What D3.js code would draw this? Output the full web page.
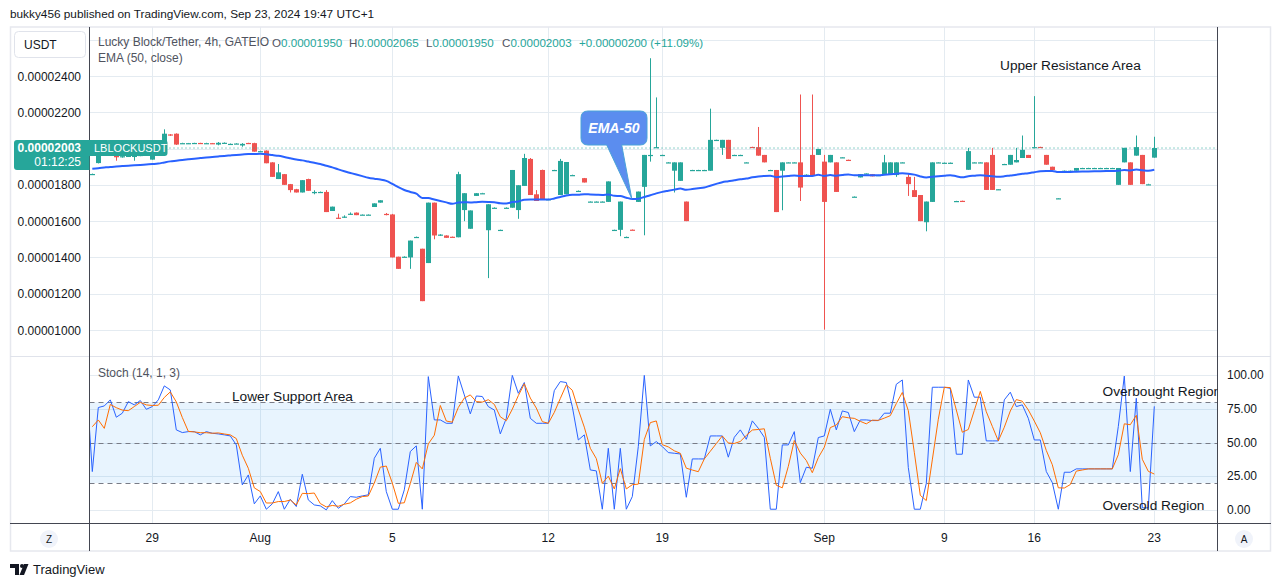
<!DOCTYPE html>
<html><head><meta charset="utf-8">
<script src="https://cdn.jsdelivr.net/npm/d3@7"></script>
<style>
html,body{margin:0;padding:0;background:#fff;}
svg{display:block;font-family:"Liberation Sans",Arial,sans-serif;}
</style></head><body>
<svg id="c" width="1281" height="587"></svg>
<script>
// prices in units of 1e-8 USDT, one entry per 4h candle (index based)
const openV = [1858,1920,1985,1987,1961,1957,1958,1955,1960,1965,1939,1971,2026,2078,2082,2029,2029,2030,2031,2028,2030,2022,2030,2024,2026,2017,2031,2030,1984,1989,1924,1832,1859,1804,1776,1758,1832,1754,1760,1761,1656,1619,1622,1639,1647,1635,1635,1678,1702,1640,1637,1404,1403,1400,1512,1448,1369,1702,1521,1521,1514,1511,1661,1558,1739,1753,1550,1673,1551,1673,1674,1661,1794,1943,1748,1882,1720,1880,1744,1748,1853,1766,1837,1707,1707,1707,1706,1551,1552,1512,1553,1706,1789,1962,2005,1963,1923,1878,1822,1708,1881,1881,1881,1878,2047,2004,2048,1964,1964,1923,2009,2008,1965,1881,1882,1878,1923,1923,1924,1855,1965,1965,1928,1924,1924,1951,1938,1734,1841,1862,1859,1853,1856,1856,1854,1923,1844,1771,1744,1594,1706,1923,1921,1921,1710,1712,1883,1923,1923,1924,1965,1775,1914,1911,1924,1948,1965,2007,2009,1965,1900,1725,1877,1877,1878,1892,1892,1892,1892,1892,1892,1800,1924,1924,1961,1965,1802,1950];
const highV = [1862,1968,1990,1992,1963,1962,1962,1965,1968,1975,1971,1985,2106,2080,2084,2032,2031,2032,2032,2032,2031,2036,2034,2028,2029,2030,2032,2032,1988,1990,1925,1915,1860,1805,1778,1826,1834,1770,1763,1771,1680,1641,1632,1648,1648,1637,1637,1698,1715,1645,1640,1404,1406,1493,1515,1448,1702,1702,1528,1522,1515,1872,1754,1659,1754,1756,1693,1676,1553,1676,1882,1798,1971,1948,1771,1884,1723,1883,1943,1926,1856,1769,1838,1709,1709,1709,1819,1553,1708,1515,1554,1763,1965,2498,2282,1966,1926,1924,1924,1708,1883,1883,1883,2220,2049,2048,2048,1966,1966,1925,2010,2119,1965,1883,1882,1924,1925,1925,2298,1858,2298,1998,1965,1965,1924,1953,1939,1736,1859,1864,1860,1855,1965,1924,1924,1925,1859,1844,1744,1708,1924,1925,1923,1923,1712,1713,2004,1925,1925,1924,2004,1777,1916,1965,2004,2072,1965,2289,2010,1965,1900,1727,1879,1879,1893,1894,1894,1894,1894,1894,1894,1893,2004,1924,2072,1965,1806,2065];
const lowV = [1856,1918,1980,1982,1933,1950,1955,1933,1958,1962,1939,1965,2010,2070,2020,2028,2027,2028,2027,2027,2027,2018,2029,2023,2025,2010,2028,1983,1983,1919,1844,1832,1800,1758,1758,1758,1767,1748,1758,1650,1656,1613,1618,1636,1633,1634,1634,1678,1702,1632,1400,1337,1402,1337,1511,1159,1369,1500,1519,1508,1512,1511,1600,1558,1739,1752,1286,1672,1550,1672,1674,1613,1794,1744,1711,1717,1719,1879,1744,1748,1852,1765,1813,1706,1706,1706,1706,1550,1517,1511,1551,1706,1522,1928,2004,1962,1922,1758,1822,1600,1880,1880,1880,1878,2046,1965,1943,1963,1963,1922,2007,1961,1924,1880,1650,1660,1922,1922,1711,1854,1850,1965,1002,1924,1761,1950,1936,1733,1841,1861,1847,1852,1856,1856,1844,1922,1739,1733,1600,1544,1706,1922,1920,1920,1709,1710,1883,1922,1922,1772,1772,1774,1913,1911,1924,1948,1948,2006,2007,1911,1882,1724,1876,1876,1878,1891,1891,1891,1891,1891,1891,1800,1924,1800,1961,1804,1801,1950];
const closeV = [1860,1966,1987,1985,1952,1958,1960,1960,1965,1970,1971,1980,2082,2072,2022,2030,2030,2031,2028,2030,2028,2032,2032,2026,2028,2026,2030,1983,1986,1919,1844,1869,1800,1771,1758,1826,1767,1761,1761,1650,1680,1613,1625,1641,1633,1636,1636,1698,1715,1637,1400,1337,1404,1493,1513,1159,1702,1521,1526,1508,1513,1859,1754,1659,1754,1754,1693,1674,1552,1674,1882,1798,1948,1744,1711,1717,1721,1882,1932,1926,1854,1767,1813,1708,1708,1708,1819,1552,1708,1513,1552,1763,1965,1965,2008,1965,1924,1924,1924,1600,1882,1882,1882,2048,2048,2048,1943,1965,1965,1924,2008,1961,1924,1882,1650,1924,1924,1924,1785,1856,1850,1998,1706,1965,1761,1952,1937,1735,1859,1863,1847,1854,1924,1924,1924,1924,1804,1733,1600,1708,1924,1924,1922,1922,1711,1711,1986,1924,1924,1772,1772,1776,1915,1965,1937,1993,1948,2008,2008,1911,1882,1726,1878,1878,1893,1893,1893,1893,1893,1893,1893,1893,2004,1800,2008,1804,1803,2003];
// Stoch %K (14,1) per candle; two earlier values feed the first %D (3-SMA)
const stochK = [28.5,76.1,77.3,81.8,68.9,71.9,80.5,78.1,81.3,74.8,76.8,81.8,92.2,89.2,59.5,57.5,58.2,58.2,55.8,58.2,57.0,56.5,55.8,55.0,48.3,18.6,26.0,4.5,10.4,0.5,4.5,13.6,0.5,7.9,2.5,26.5,7.4,3.7,3.0,0,6.9,1.2,4.5,9.9,9.4,10.4,11.2,38.4,45.8,13.6,0.5,0.5,14.9,43.4,47.6,0.5,99.1,66.9,66.9,64.4,64.4,99.6,85.5,71.4,84.7,84.3,76.8,74.3,56.5,68.1,100,86.7,94.7,68.1,64.4,64.4,64.4,88.7,95.4,94.7,76.8,52.0,55.8,29.7,29.0,0.5,45.8,0.5,45.8,0.5,9.9,47.1,100,47.6,50.8,47.1,42.6,42.1,41.6,9.4,37.9,37.9,37.9,55.0,55.0,55.0,39.2,54.0,59.5,52.5,66.2,60.7,54.0,0.5,0.5,48.3,48.3,58.2,20.3,31.7,31.0,53.8,55.0,74.8,59.5,73.6,72.4,58.2,66.9,66.9,66.4,66.4,71.9,71.9,93.4,96.6,31.5,0.5,0.5,19.8,91.2,91.2,91.2,90.4,41.4,41.4,96.6,83.8,83.8,51.3,51.3,51.3,81.8,87.5,76.8,78.1,68.1,52.0,52.0,28.5,20.3,0.5,28.0,28.0,30.5,30.5,30.5,30.5,30.5,30.5,30.5,62,99.5,28.5,83,1.5,1.5,77];
const stochKPrior = [61, 96];
const emaSeed = 1890;          // EMA(50) value just before the first candle
const emaLength = 50;
const priceTicks = [1000,1200,1400,1600,1800,2000,2200,2400,2600];
const priceLabelTicks = [1000,1200,1400,1600,1800,2200,2400];
const stochTicks = [0,25,50,75,100];
const stochBands = [80,50,20];
const dateTickIdx = [10,28,50,76,95,122,142,157,177];
const dateTickLabels = ["29","Aug","5","12","19","Sep","9","16","23"];

const UP = "#26a69a", DN = "#ef5350", GRID = "#e4ebf1", AXIS = "#434651", TXT = "#131722";
const svg = d3.select("#c");
const L = 89.5, R = 1217.5, PT = 27, PB = 356.5, SB = 523.5, AB = 551;
const n = closeV.length;
const lastPrice = closeV[n-1];
const x = d3.scaleLinear().domain([0, n - 1]).range([92.3, 92.3 + 6 * (n - 1)]);
const yP = d3.scaleLinear().domain([1000, 2400]).range([330, 76]);
const yS = d3.scaleLinear().domain([0, 100]).range([509.9, 375.4]);
const fmt = v => (v * 1e-8).toFixed(8);

const defs = svg.append("defs");
defs.append("clipPath").attr("id","cp").append("rect").attr("x",L).attr("y",PT).attr("width",R-L).attr("height",PB-PT);
defs.append("clipPath").attr("id","cs").append("rect").attr("x",L).attr("y",PB).attr("width",R-L).attr("height",SB-PB);

// header
svg.append("text").attr("x",10).attr("y",14).attr("dominant-baseline","central")
  .attr("font-size",11.8).attr("fill",TXT).text("bukky456 published on TradingView.com, Sep 23, 2024 19:47 UTC+1");

// grid
const g = svg.append("g");
g.selectAll(".hp").data(priceTicks).join("line").attr("x1",L).attr("x2",R).attr("y1",d=>Math.round(yP(d))+0.5).attr("y2",d=>Math.round(yP(d))+0.5).attr("stroke",GRID);
g.selectAll(".hs").data(stochTicks).join("line").attr("x1",L).attr("x2",R).attr("y1",d=>Math.round(yS(d))+0.5).attr("y2",d=>Math.round(yS(d))+0.5).attr("stroke",GRID);
g.selectAll(".v").data(dateTickIdx).join("line").attr("x1",d=>Math.round(x(d))+0.5).attr("x2",d=>Math.round(x(d))+0.5).attr("y1",PT).attr("y2",SB).attr("stroke",GRID);

// stoch band
const sp = svg.append("g").attr("clip-path","url(#cs)");
sp.append("rect").attr("x",L).attr("width",R-L).attr("y",yS(80)).attr("height",yS(20)-yS(80)).attr("fill","rgba(33,150,243,0.1)");
sp.selectAll(".b").data(stochBands).join("line").attr("x1",L).attr("x2",R)
  .attr("y1",d=>Math.round(yS(d))+0.5).attr("y2",d=>Math.round(yS(d))+0.5)
  .attr("stroke","#787b86").attr("stroke-dasharray","5,4");

// candles
const cp = svg.append("g").attr("clip-path","url(#cp)");
const idx = d3.range(n);
const col = i => closeV[i] >= openV[i] ? UP : DN;
cp.selectAll(".w").data(idx).join("line")
  .attr("x1",i=>Math.round(x(i))+0.5).attr("x2",i=>Math.round(x(i))+0.5)
  .attr("y1",i=>yP(highV[i])).attr("y2",i=>yP(lowV[i])).attr("stroke",col);
cp.selectAll(".bd").data(idx).join("rect")
  .attr("x",i=>Math.round(x(i))-2).attr("width",5)
  .attr("y",i=>yP(Math.max(openV[i],closeV[i])))
  .attr("height",i=>Math.max(1.2, Math.abs(yP(openV[i])-yP(closeV[i]))))
  .attr("fill",col);

// EMA 50
const alpha = 2 / (emaLength + 1);
const ema = [];
closeV.reduce((prev, c) => { const e = prev + alpha * (c - prev); ema.push(e); return e; }, emaSeed);
cp.append("path").datum(ema).attr("fill","none").attr("stroke","#2962ff").attr("stroke-width",2)
  .attr("d", d3.line().x((d,i)=>x(i)).y(d=>yP(d)).curve(d3.curveMonotoneX));

// last price dotted line
cp.append("line").attr("x1",L).attr("x2",R).attr("y1",yP(lastPrice)).attr("y2",yP(lastPrice))
  .attr("stroke",UP).attr("stroke-dasharray","1,3");

// stochastic
const kAll = stochKPrior.concat(stochK);
const stochD = stochK.map((v,i)=> (kAll[i] + kAll[i+1] + kAll[i+2]) / 3);
const kPts = kAll.slice(1).map((v,i)=>[i-1, v]);
sp.append("path").datum(kPts).attr("fill","none").attr("stroke","#2962ff").attr("stroke-width",1)
  .attr("d", d3.line().x(d=>x(d[0])).y(d=>yS(d[1])));
sp.append("path").datum(stochD).attr("fill","none").attr("stroke","#ff6d00").attr("stroke-width",1)
  .attr("d", d3.line().x((d,i)=>x(i)).y(d=>yS(d)));

// frame and axes
svg.append("rect").attr("x",10.5).attr("y",PT).attr("width",1260).attr("height",AB-PT).attr("fill","none").attr("stroke","#e6e8ee").attr("stroke-width",1.5);
svg.append("line").attr("x1",10).attr("x2",1271).attr("y1",PB).attr("y2",PB).attr("stroke","#e0e3eb");
svg.append("line").attr("x1",10).attr("x2",1271).attr("y1",SB).attr("y2",SB).attr("stroke",AXIS);
svg.append("line").attr("x1",L).attr("x2",L).attr("y1",PT).attr("y2",AB).attr("stroke",AXIS);
svg.append("line").attr("x1",R).attr("x2",R).attr("y1",PT).attr("y2",AB).attr("stroke",AXIS);

// price axis labels (left)
svg.selectAll(".pl").data(priceLabelTicks).join("text").attr("x",81).attr("y",d=>yP(d)+0.5)
  .attr("text-anchor","end").attr("dominant-baseline","central").attr("font-size",12).attr("fill",TXT)
  .text(fmt);
// stoch axis labels (right)
svg.selectAll(".sl").data(stochTicks).join("text").attr("x",1227).attr("y",d=>yS(d))
  .attr("dominant-baseline","central").attr("font-size",12).attr("fill",TXT).text(d=>d.toFixed(2));
// time labels
svg.selectAll(".tl").data(dateTickIdx).join("text").attr("x",i=>x(i)).attr("y",538)
  .attr("text-anchor","middle").attr("dominant-baseline","central").attr("font-size",12).attr("fill",TXT)
  .text((d,k)=>dateTickLabels[k]);

// USDT box
svg.append("rect").attr("x",14.5).attr("y",31.5).attr("width",71).attr("height",26).attr("rx",4).attr("fill","#fff").attr("stroke","#e0e3eb");
svg.append("text").attr("x",24).attr("y",44.5).attr("dominant-baseline","central").attr("font-size",12).attr("fill",TXT).text("USDT");

// last price label + symbol tag
const ly = yP(lastPrice);
svg.append("path").attr("d","M"+L+","+(ly-8)+" L"+L+","+(ly+22)+" L17,"+(ly+22)+" Q14,"+(ly+22)+" 14,"+(ly+19)+" L14,"+(ly-5)+" Q14,"+(ly-8)+" 17,"+(ly-8)+" Z").attr("fill",UP);
svg.append("path").attr("d","M89,"+(ly-8)+" L164.5,"+(ly-8)+" Q167.5,"+(ly-8)+" 167.5,"+(ly-5)+" L167.5,"+(ly+5)+" Q167.5,"+(ly+8)+" 164.5,"+(ly+8)+" L89,"+(ly+8)+" Z").attr("fill",UP);
svg.append("text").attr("x",81).attr("y",ly).attr("text-anchor","end").attr("dominant-baseline","central").attr("font-size",12).attr("font-weight","bold").attr("fill","#fff").text(fmt(lastPrice));
svg.append("text").attr("x",81).attr("y",ly+14).attr("text-anchor","end").attr("dominant-baseline","central").attr("font-size",12).attr("fill","#fff").text("01:12:25");
svg.append("text").attr("x",94).attr("y",ly).attr("dominant-baseline","central").attr("font-size",11).attr("fill","#fff").text("LBLOCKUSDT");

// legend
const LG = "#50535e";
svg.append("text").attr("x",98).attr("y",42).attr("dominant-baseline","central").attr("font-size",12).attr("fill",LG).text("Lucky Block/Tether, 4h, GATEIO");
const ohlc = [["O",openV[n-1],272],["H",highV[n-1],349],["L",lowV[n-1],426],["C",closeV[n-1],502]];
ohlc.forEach(([k,v,px])=>{
  const t = svg.append("text").attr("x",px).attr("y",42).attr("dominant-baseline","central").attr("font-size",11.6);
  t.append("tspan").attr("fill",LG).text(k);
  t.append("tspan").attr("fill",UP).text(fmt(v));
});
const chg = closeV[n-1] - closeV[n-2];
const pct = chg / closeV[n-2] * 100;
svg.append("text").attr("x",579).attr("y",42).attr("dominant-baseline","central").attr("font-size",11.6).attr("fill",UP)
  .text((chg>=0?"+":"")+fmt(chg)+" ("+(chg>=0?"+":"")+pct.toFixed(2)+"%)");
svg.append("text").attr("x",98).attr("y",58).attr("dominant-baseline","central").attr("font-size",12).attr("fill",LG).text("EMA (50, close)");
svg.append("text").attr("x",98).attr("y",373).attr("dominant-baseline","central").attr("font-size",12).attr("fill",LG).text("Stoch (14, 1, 3)");

// annotations
const ann = svg.append("g").attr("font-size",13.7).attr("fill",TXT).attr("dominant-baseline","central");
ann.append("text").attr("x",1000).attr("y",65).text("Upper Resistance Area");
ann.append("text").attr("x",232).attr("y",396.5).text("Lower Support Area");
const annS = svg.append("g").attr("clip-path","url(#cs)").attr("font-size",13.7).attr("fill",TXT).attr("dominant-baseline","central");
annS.append("text").attr("x",1102.5).attr("y",391).text("Overbought Region");
annS.append("text").attr("x",1102.5).attr("y",505).text("Oversold Region");

// EMA-50 callout
svg.append("path").attr("d","M588,111 L640,111 Q647,111 647,118 L647,138 Q647,145 640,145 L621.7,145 L631.7,198.3 L606.7,145 L588,145 Q581,145 581,138 L581,118 Q581,111 588,111 Z")
  .attr("fill","#5b8def").attr("stroke","#4aa3d8").attr("stroke-width",1);
svg.append("text").attr("x",614).attr("y",128).attr("text-anchor","middle").attr("dominant-baseline","central")
  .attr("font-size",14).attr("font-style","italic").attr("font-weight","bold").attr("fill","#fff").text("EMA-50");

// Z / A buttons
[[49,"Z"],[1244,"A"]].forEach(([cx,t])=>{
  svg.append("circle").attr("cx",cx).attr("cy",539).attr("r",9).attr("fill","#f0f3fa");
  svg.append("text").attr("x",cx).attr("y",539.5).attr("text-anchor","middle").attr("dominant-baseline","central").attr("font-size",10).attr("fill",TXT).text(t);
});

// TradingView logo
svg.append("path").attr("d","M10,564 H19 V575 H15 V568 H10 Z").attr("fill",TXT);
svg.append("circle").attr("cx",22).attr("cy",566).attr("r",2).attr("fill",TXT);
svg.append("path").attr("d","M24,564 H28.5 L24,575 H19.5 Z").attr("fill",TXT);
svg.append("text").attr("x",33).attr("y",569.5).attr("dominant-baseline","central").attr("font-size",13).attr("fill",TXT).text("TradingView");
</script>
</body></html>
